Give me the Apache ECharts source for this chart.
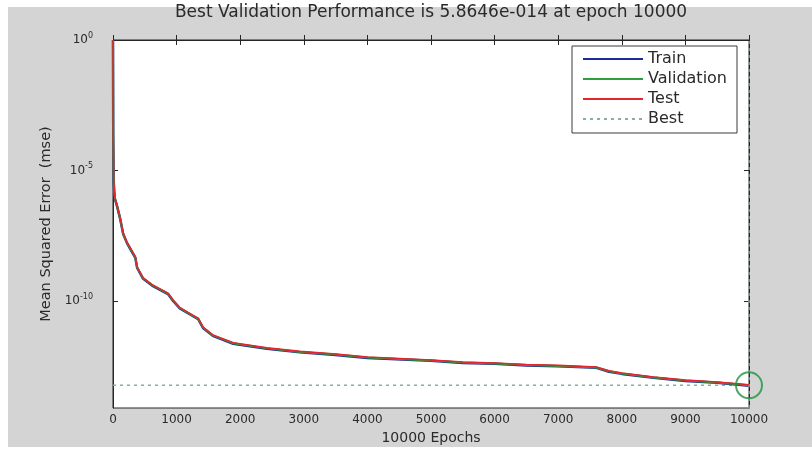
<!DOCTYPE html>
<html>
<head>
<meta charset="utf-8">
<title>Best Validation Performance</title>
<script src="https://cdn.jsdelivr.net/npm/echarts@6/dist/echarts.min.js"></script>
<style>
  html, body { margin: 0; padding: 0; background: #fff; }
  #chart { width: 812px; height: 452px; }
</style>
</head>
<body>
<div id="chart"></div>
<script>
// Training record: mean squared error per epoch
const epochs = [0, 4, 8, 12, 20, 30, 60, 110, 160, 220, 270, 350, 380, 470, 630, 865, 945, 1050,
  1260, 1340, 1415, 1570, 1890, 2420, 2940, 3500, 4000, 5000, 5500, 6000, 6500, 7000, 7600,
  7800, 8000, 8500, 9000, 9500, 10000];

const trainMse = [1, 1.8e-4, 2.3e-5, 3.7e-6, 1.5e-6, 8.2e-7, 4.6e-7, 1.5e-7, 3.7e-8, 1.65e-8,
  1.0e-8, 4.6e-9, 1.85e-9, 7.3e-10, 3.7e-10, 1.85e-10, 1.0e-10, 5.2e-11, 2.6e-11, 2.0e-11,
  9.3e-12, 4.6e-12, 2.3e-12, 1.48e-12, 1.08e-12, 8.6e-13, 6.6e-13, 5.1e-13, 4.25e-13, 3.9e-13,
  3.4e-13, 3.15e-13, 2.75e-13, 1.95e-13, 1.61e-13, 1.14e-13, 8.6e-14, 7.3e-14, 5.7e-14];

const validationMse = [1, 1.9e-4, 2.4e-5, 3.8e-6, 1.55e-6, 8.5e-7, 4.8e-7, 1.55e-7, 3.8e-8, 1.7e-8,
  1.05e-8, 4.8e-9, 1.9e-9, 7.6e-10, 3.85e-10, 1.9e-10, 1.05e-10, 5.4e-11, 2.7e-11, 2.1e-11,
  9.6e-12, 4.8e-12, 2.4e-12, 1.53e-12, 1.12e-12, 8.9e-13, 6.8e-13, 5.3e-13, 4.4e-13, 4.0e-13,
  3.55e-13, 3.25e-13, 2.85e-13, 2.02e-13, 1.67e-13, 1.18e-13, 8.9e-14, 7.6e-14, 5.8646e-14];

const testMse = [1, 2.0e-4, 2.5e-5, 4.0e-6, 1.6e-6, 8.9e-7, 5.0e-7, 1.6e-7, 4.0e-8, 1.8e-8,
  1.1e-8, 5.0e-9, 2.0e-9, 7.9e-10, 4.0e-10, 2.0e-10, 1.1e-10, 5.6e-11, 2.8e-11, 2.2e-11,
  1.0e-11, 5.0e-12, 2.5e-12, 1.6e-12, 1.17e-12, 9.3e-13, 7.1e-13, 5.5e-13, 4.6e-13, 4.2e-13,
  3.7e-13, 3.4e-13, 2.95e-13, 2.1e-13, 1.74e-13, 1.23e-13, 9.3e-14, 7.9e-14, 6.2e-14];

const bestEpoch = 10000;
const bestMse = 5.8646e-14;

const xTicks = [0, 1000, 2000, 3000, 4000, 5000, 6000, 7000, 8000, 9000, 10000];
const yDecadeTicks = [0, -5, -10];          // exponents labelled as 10^n
const yExponentRange = [-14.1, 0];

const titleText = 'Best Validation Performance is 5.8646e-014 at epoch ' + bestEpoch;
const xName = '10000 Epochs';
const yName = 'Mean Squared Error  (mse)';

// the value axis runs in log10 space
const toLog = (arr) => arr.map((v, i) => [epochs[i], Math.log10(v)]);

const FONT = 'DejaVu Sans';
const AXIS_COLOR = '#262626';
const TEXT_COLOR = '#2a2a2a';

const chart = echarts.init(document.getElementById('chart'), null, { renderer: 'canvas' });

const xAxisBase = {
  type: 'value',
  min: xTicks[0],
  max: xTicks[xTicks.length - 1],
  interval: xTicks[1] - xTicks[0],
  splitLine: { show: false },
  axisLine: { show: true, lineStyle: { color: AXIS_COLOR, width: 1 } },
  axisTick: { show: true, inside: true, length: 5, lineStyle: { color: AXIS_COLOR } }
};

const yAxisBase = {
  type: 'value',
  min: yExponentRange[0],
  max: yExponentRange[1],
  splitLine: { show: false },
  axisLine: { show: true, onZero: false, lineStyle: { color: AXIS_COLOR, width: 1 } },
  axisTick: { show: true, inside: true, length: 5, customValues: yDecadeTicks, lineStyle: { color: AXIS_COLOR } }
};

const option = {
  backgroundColor: '#ffffff',
  animation: false,
  graphic: [
    {
      type: 'rect', z: -10, silent: true,
      shape: { x: 8, y: 7, width: 804, height: 440 },
      style: { fill: '#d4d4d4' }
    },
    {
      type: 'text', z: 10, silent: true,
      x: 431, y: 13,
      style: {
        text: titleText, fill: TEXT_COLOR, font: '17px "' + FONT + '"',
        textAlign: 'center', textVerticalAlign: 'middle'
      }
    }
  ],
  grid: {
    left: 113, right: 63, top: 40, bottom: 44,
    show: true, backgroundColor: '#ffffff', borderColor: AXIS_COLOR, borderWidth: 1
  },
  legend: {
    orient: 'vertical',
    left: 572, top: 46,
    padding: [5, 10, 6, 10],
    itemGap: 4,
    itemWidth: 60, itemHeight: 14,
    backgroundColor: '#ffffff',
    borderColor: '#3a3a3a', borderWidth: 1, borderRadius: 0,
    itemStyle: { color: 'rgba(0,0,0,0)', borderWidth: 0 },
    textStyle: { fontFamily: FONT, fontSize: 16, color: TEXT_COLOR },
    data: ['Train', 'Validation', 'Test', 'Best']
  },
  xAxis: [
    Object.assign({}, xAxisBase, {
      position: 'bottom',
      name: xName, nameLocation: 'middle', nameGap: 22,
      nameTextStyle: { fontFamily: FONT, fontSize: 14, color: TEXT_COLOR },
      axisLabel: {
        show: true, margin: 6, fontFamily: FONT, fontSize: 12, color: TEXT_COLOR,
        formatter: (v) => String(v)
      }
    }),
    Object.assign({}, xAxisBase, {
      position: 'top',
      axisLabel: { show: false }
    })
  ],
  yAxis: [
    Object.assign({}, yAxisBase, {
      position: 'left',
      name: yName, nameLocation: 'middle', nameGap: 58, nameRotate: 90,
      nameTextStyle: { fontFamily: FONT, fontSize: 14.5, color: TEXT_COLOR },
      axisLabel: {
        show: true, margin: 20,
        customValues: yDecadeTicks,
        formatter: (v) => '{b|10}{e|' + Math.round(v) + '}',
        rich: {
          b: { fontFamily: FONT, fontSize: 12, color: TEXT_COLOR },
          e: { fontFamily: FONT, fontSize: 8, color: TEXT_COLOR, padding: [0, 0, 9, 0] }
        }
      }
    }),
    Object.assign({}, yAxisBase, {
      position: 'right',
      axisLabel: { show: false }
    })
  ],
  series: [
    {
      name: 'Train', type: 'line', symbol: 'none', z: 3,
      data: toLog(trainMse),
      itemStyle: { color: '#1c2a9a' },
      lineStyle: { color: '#1c2a9a', width: 2.5 }
    },
    {
      name: 'Validation', type: 'line', symbol: 'none', z: 4,
      data: toLog(validationMse),
      itemStyle: { color: '#2f9e3f' },
      lineStyle: { color: '#2f9e3f', width: 2 }
    },
    {
      name: 'Test', type: 'line', symbol: 'none', z: 5,
      data: toLog(testMse),
      itemStyle: { color: '#e3262a' },
      lineStyle: { color: '#e3262a', width: 1.6 }
    },
    {
      name: 'Best', type: 'line', symbol: 'none', z: 2,
      data: [[xTicks[0], Math.log10(bestMse)], [bestEpoch, Math.log10(bestMse)]],
      itemStyle: { color: '#86aea2' },
      lineStyle: { color: '#86aea2', width: 1.5, type: [3, 4] },
      markLine: {
        silent: true, symbol: 'none', label: { show: false },
        lineStyle: { color: '#86aea2', width: 1.5, type: [3, 4] },
        data: [{ xAxis: bestEpoch }]
      }
    },
    {
      name: 'Best point', type: 'scatter', z: 6, clip: false,
      symbol: 'circle', symbolSize: 26,
      data: [[bestEpoch, Math.log10(bestMse)]],
      itemStyle: { color: 'rgba(0,0,0,0)', borderColor: '#1d9440', borderWidth: 2 }
    }
  ]
};

chart.setOption(option);
</script>
</body>
</html>
